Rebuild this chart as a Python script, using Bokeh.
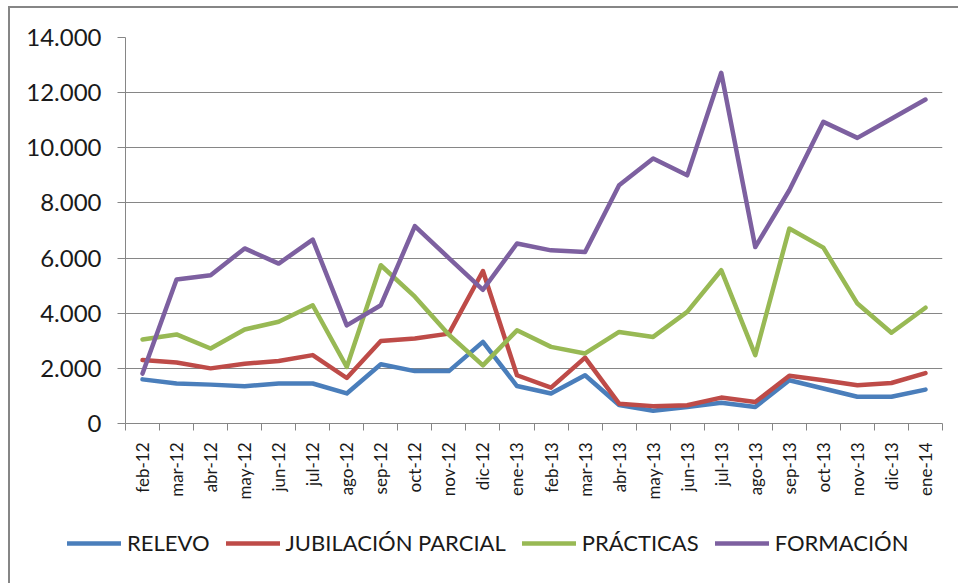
from bokeh.plotting import figure
from bokeh.models import (ColumnDataSource, Range1d, FixedTicker, CustomJSTickFormatter,
                          Legend, LegendItem)
from bokeh.embed import file_html
from bokeh.resources import INLINE
from math import pi

months = ["feb-12", "mar-12", "abr-12", "may-12", "jun-12", "jul-12", "ago-12", "sep-12",
          "oct-12", "nov-12", "dic-12", "ene-13", "feb-13", "mar-13", "abr-13", "may-13",
          "jun-13", "jul-13", "ago-13", "sep-13", "oct-13", "nov-13", "dic-13", "ene-14"]

relevo = [1600, 1450, 1410, 1350, 1450, 1450, 1090, 2150, 1900, 1900, 2960, 1360,
          1090, 1750, 670, 460, 600, 750, 600, 1570, 1270, 970, 970, 1230]
jubilacion = [2300, 2210, 2000, 2170, 2270, 2480, 1650, 2990, 3080, 3260, 5530, 1750,
              1300, 2390, 720, 630, 660, 940, 780, 1730, 1570, 1390, 1470, 1830]
practicas = [3050, 3230, 2720, 3410, 3690, 4290, 2050, 5740, 4600, 3220, 2110, 3380,
             2780, 2540, 3320, 3140, 4050, 5560, 2480, 7070, 6380, 4350, 3290, 4200]
formacion = [1810, 5220, 5380, 6350, 5800, 6670, 3560, 4290, 7160, 6000, 4850, 6530,
             6280, 6220, 8640, 9610, 9000, 12720, 6400, 8460, 10940, 10360, 11050, 11750]

series_names = ["RELEVO", "JUBILACIÓN PARCIAL", "PRÁCTICAS", "FORMACIÓN"]
series_values = [relevo, jubilacion, practicas, formacion]
colors = ["#4A7EBB", "#BE4B48", "#98B954", "#7D60A0"]

y_ticks = [0, 2000, 4000, 6000, 8000, 10000, 12000, 14000]

FONT = "Lato"
GRAY = "#868686"

n = len(months)
xs = [i + 0.5 for i in range(n)]

p = figure(width=958, height=520, output_backend="svg", toolbar_location=None,
           x_range=Range1d(0, n), y_range=Range1d(0, 14000),
           min_border_left=125, min_border_right=16, min_border_top=37, min_border_bottom=97)
p.outline_line_color = None
p.background_fill_color = None
p.border_fill_color = None
p.styles = {
    "background": (f"linear-gradient({GRAY},{GRAY}) 8px 6px / 100% 2px no-repeat, "
                   f"linear-gradient({GRAY},{GRAY}) 8px 6px / 2px 100% no-repeat, white"),
}

# legend strip (separate root, so that it is not aligned to the chart frame)
pl = figure(width=958, height=63, output_backend="svg", toolbar_location=None,
            x_range=Range1d(-3, -2), y_range=Range1d(0, 14000),
            x_axis_type=None, y_axis_type=None,
            min_border_left=0, min_border_right=0, min_border_top=0, min_border_bottom=0)
pl.outline_line_color = None
pl.background_fill_color = None
pl.border_fill_color = None
pl.xgrid.grid_line_color = None
pl.ygrid.grid_line_color = None
pl.styles = {
    "background": f"linear-gradient({GRAY},{GRAY}) 8px 0px / 2px 100% no-repeat, white",
}

leg_renderers = []
for name, vals, col in zip(series_names, series_values, colors):
    src = ColumnDataSource(dict(x=xs, y=vals))
    p.line("x", "y", source=src, line_color=col, line_width=4.5,
           line_join="round", line_cap="round")
    # same series drawn off-range in the strip, only to supply the legend swatch
    leg_renderers.append(pl.line("x", "y", source=src, line_color=col, line_width=4.5,
                                 line_cap="round"))

# y axis
p.yaxis.ticker = FixedTicker(ticks=y_ticks)
p.yaxis.major_label_overrides = {v: f"{v:,}".replace(",", ".") for v in y_ticks}
p.yaxis.major_label_text_font = FONT
p.yaxis.major_label_text_font_size = "24px"
p.yaxis.major_label_text_color = "#1a1a1a"
p.yaxis.axis_line_color = GRAY
p.yaxis.axis_line_width = 1
p.yaxis.major_tick_line_color = GRAY
p.yaxis.major_tick_out = 8
p.yaxis.major_tick_in = 0
p.yaxis.minor_tick_line_color = None
p.yaxis.major_label_standoff = 16

# x axis
p.xaxis.ticker = FixedTicker(ticks=xs, minor_ticks=list(range(n + 1)))
p.xaxis.formatter = CustomJSTickFormatter(args=dict(labels=months),
                                          code="return labels[Math.floor(tick)] || '';")
p.xaxis.major_label_orientation = pi / 2
p.xaxis.major_label_text_font = FONT
p.xaxis.major_label_text_font_size = "17px"
p.xaxis.major_label_text_color = "#1a1a1a"
p.xaxis.axis_line_color = GRAY
p.xaxis.major_tick_line_color = None
p.xaxis.minor_tick_line_color = GRAY
p.xaxis.minor_tick_out = 7
p.xaxis.minor_tick_in = 0
p.xaxis.major_label_standoff = 12

p.xgrid.grid_line_color = None
p.ygrid.grid_line_color = GRAY
p.ygrid.grid_line_width = 1
p.ygrid.ticker = FixedTicker(ticks=y_ticks)

legend = Legend(items=[LegendItem(label=nm, renderers=[r]) for nm, r in zip(series_names, leg_renderers)],
                location=(67, 27), orientation="horizontal",
                glyph_width=54, glyph_height=24, label_standoff=6,
                padding=0, margin=0, spacing=16,
                label_text_font=FONT, label_text_font_size="22px",
                label_text_color="#1a1a1a", border_line_color=None,
                background_fill_alpha=0)
pl.add_layout(legend, "center")

open("out.html", "w").write(file_html([p, pl], INLINE))
